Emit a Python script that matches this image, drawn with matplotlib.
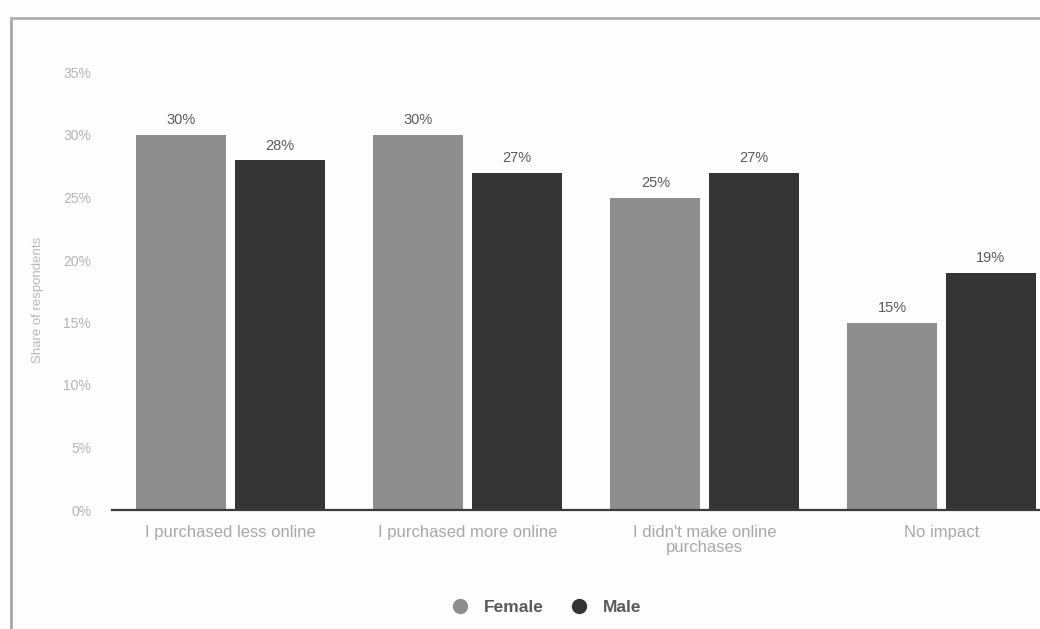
import matplotlib
matplotlib.use("Agg")
import matplotlib.pyplot as plt
import numpy as np
from matplotlib.lines import Line2D

CATEGORIES = ["I purchased less online", "I purchased more online",
              "I didn't make online\npurchases", "No impact"]
FEMALE = [30, 30, 25, 15]
MALE = [28, 27, 27, 19]
SERIES = ["Female", "Male"]
Y_TICKS = [0, 5, 10, 15, 20, 25, 30, 35]

FEMALE_COLOR = "#8e8e8e"
MALE_COLOR = "#353535"


def main() -> None:
    plt.rcParams["font.family"] = ["Liberation Sans", "DejaVu Sans"]
    fig = plt.figure(figsize=(10.4, 6.29), dpi=100)
    fig.patch.set_facecolor("#fdfdfd")

    # page border, top and left edge of the printed box
    fig.add_artist(Line2D([11 / 1040, 11 / 1040], [0, 1 - 18 / 629],
                          color="#a8a8a8", linewidth=2.0))
    fig.add_artist(Line2D([11 / 1040, 1.0], [1 - 18 / 629, 1 - 18 / 629],
                          color="#b0b0b0", linewidth=2.0))

    ax = fig.add_axes([112 / 1040, 119 / 629, 948 / 1040, 437.5 / 629])
    ax.set_facecolor("none")

    x = np.arange(len(CATEGORIES))
    width = 0.38
    offset = 0.207
    bars_f = ax.bar(x - offset, FEMALE, width, color=FEMALE_COLOR,
                    label=SERIES[0], zorder=3)
    bars_m = ax.bar(x + offset, MALE, width, color=MALE_COLOR,
                    label=SERIES[1], zorder=3)
    for bars, values in ((bars_f, FEMALE), (bars_m, MALE)):
        for bar, value in zip(bars, values):
            ax.text(bar.get_x() + bar.get_width() / 2, value + 0.6,
                    f"{value}%", ha="center", va="bottom", fontsize=10.5,
                    color="#5a5a5a")

    ax.set_xlim(-0.5, len(CATEGORIES) - 0.5)
    ax.set_ylim(0, 35)
    ax.set_yticks(Y_TICKS)
    ax.set_yticklabels([f"{v}%" for v in Y_TICKS])
    ax.set_xticks(x)
    ax.set_xticklabels(CATEGORIES, linespacing=0.95)
    ax.tick_params(axis="y", length=0, pad=15, labelsize=10,
                   labelcolor="#b4b4b4")
    ax.tick_params(axis="x", length=0, pad=11, labelsize=12,
                   labelcolor="#a8a8a8")
    for name in ("top", "right", "left"):
        ax.spines[name].set_visible(False)
    ax.spines["bottom"].set_color("#3a3a3a")
    ax.spines["bottom"].set_linewidth(1.6)
    ax.spines["bottom"].set_zorder(4)

    fig.text(38 / 1040, 1 - 300 / 629, "Share of respondents", rotation=90,
             ha="center", va="center", fontsize=9.5, color="#b8b8b8")

    handles = [Line2D([0], [0], marker="o", linestyle="none", markersize=10,
                      markerfacecolor=c, markeredgecolor=c)
               for c in (FEMALE_COLOR, MALE_COLOR)]
    leg = fig.legend(handles, SERIES, loc="center",
                     bbox_to_anchor=(542 / 1040, 1 - 607 / 629), ncol=2,
                     frameon=False, handletextpad=0.4, columnspacing=1.0,
                     prop={"size": 12.5, "weight": "bold"})
    for text in leg.get_texts():
        text.set_color("#5a5a5a")

    fig.savefig("out.png", dpi=100, facecolor=fig.get_facecolor())
    plt.close(fig)


if __name__ == "__main__":
    main()
